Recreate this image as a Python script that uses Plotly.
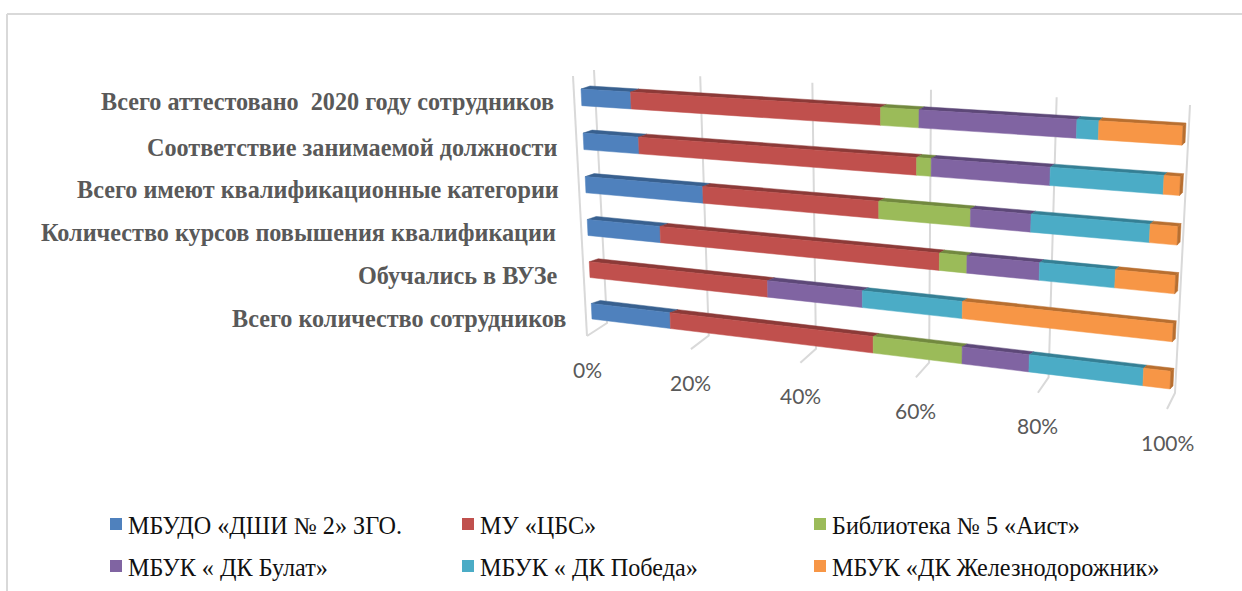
"""Stacked 100% bars in Excel's 3D look, drawn through a small perspective projection."""

import numpy as np
import plotly.graph_objects as go

# rows go from the bottom of the chart to the top
CATEGORIES = [
    "Всего количество сотрудников",
    "Обучались в ВУЗе",
    "Количество курсов повышения квалификации",
    "Всего имеют квалификационные категории",
    "Соответствие занимаемой должности",
    "Всего аттестовано\u00a0\u00a02020 году сотрудников",
]
SERIES_NAMES = [
    "МБУДО «ДШИ № 2» ЗГО.",
    "МУ «ЦБС»",
    "Библиотека № 5 «Аист»",
    "МБУК « ДК Булат»",
    "МБУК « ДК Победа»",
    "МБУК «ДК Железнодорожник»",
]
DSHI = [15.3, 0, 14.0, 22.2, 10.6, 9.4]
CBS = [36.8, 33.6, 49.3, 30.9, 49.0, 44.0]
AIST = [15.0, 0, 4.5, 15.1, 2.4, 6.3]
BULAT = [10.9, 16.7, 11.6, 9.6, 18.9, 24.7]
POBEDA = [17.8, 16.8, 11.7, 18.1, 17.1, 3.3]
ZHD = [4.1, 32.9, 9.0, 4.1, 2.4, 12.3]
SERIES_VALUES = [DSHI, CBS, AIST, BULAT, POBEDA, ZHD]
TICKS = [0, 20, 40, 60, 80, 100]
TICK_LABELS = ["0%", "20%", "40%", "60%", "80%", "100%"]

FRONT_COLORS = ["#4F81BD", "#C0504D", "#9BBB59", "#8064A2", "#4BACC6", "#F79646"]
TOP_COLORS = ["#38608F", "#8C3A38", "#72893F", "#5D4878", "#357F94", "#B86F30"]
GRID = "#D9D9D9"
TEXT = "#595959"

BAR_PITCH = 0.186
BAR_HEIGHT = 0.07


def homography(corners):
    """Matrix taking (0,0),(1,0),(0,1),(1,1) to the given pixel corners."""
    src = [(0, 0), (1, 0), (0, 1), (1, 1)]
    a, b = [], []
    for (u, v), (x, y) in zip(src, corners):
        a.append([u, v, 1, 0, 0, 0, -u * x, -v * x])
        a.append([0, 0, 0, u, v, 1, -u * y, -v * y])
        b += [x, y]
    h = np.linalg.solve(np.array(a, float), np.array(b, float))
    return np.append(h, 1).reshape(3, 3)


def project(h, pct, v):
    px, py, w = h @ np.array([pct / 100, v, 1.0])
    return px / w, py / w


# bars plane and back wall, as pixel corners (left-bottom, right-bottom, left-top, right-top)
BARS = homography([(592, 319), (1170, 389), (581, 89), (1183, 126)])
WALL = homography([(607, 323), (1175, 393), (594, 70), (1190, 105)])
FLOOR_LEFT = (587, 336)
FLOOR_RIGHT = (1167, 409)


def floor_front(pct):
    # same spacing along the front edge of the floor as along the foot of the wall
    x0 = project(WALL, 0, 0)[0]
    x1 = project(WALL, 100, 0)[0]
    t = (project(WALL, pct, 0)[0] - x0) / (x1 - x0)
    return (FLOOR_LEFT[0] + t * (FLOOR_RIGHT[0] - FLOOR_LEFT[0]),
            FLOOR_LEFT[1] + t * (FLOOR_RIGHT[1] - FLOOR_LEFT[1]))


def depth(pct):
    return 9 - 6 * pct / 100, -3


def poly(points, color):
    xs = [p[0] for p in points] + [points[0][0]]
    ys = [p[1] for p in points] + [points[0][1]]
    return go.Scatter(x=xs, y=ys, mode="lines", fill="toself", fillcolor=color,
                      line=dict(color=color, width=0.5), hoverinfo="skip", showlegend=False)


def shifted(point, pct):
    dx, dy = depth(pct)
    return point[0] + dx, point[1] + dy


fig = go.Figure()

# walls
for pct in TICKS:
    back_bottom = project(WALL, pct, 0)
    back_top = project(WALL, pct, 1)
    front = floor_front(pct)
    fig.add_trace(go.Scatter(x=[back_top[0], back_bottom[0], front[0]],
                             y=[back_top[1], back_bottom[1], front[1]],
                             mode="lines", line=dict(color=GRID, width=2),
                             hoverinfo="skip", showlegend=False))
fig.add_trace(go.Scatter(x=[573, FLOOR_LEFT[0]], y=[76, FLOOR_LEFT[1]], mode="lines",
                         line=dict(color=GRID, width=2), hoverinfo="skip", showlegend=False))

# bars
for row in range(len(CATEGORIES)):
    low = row * BAR_PITCH
    high = low + BAR_HEIGHT
    start = 0
    total = sum(vals[row] for vals in SERIES_VALUES)
    for vals, front_color, top_color in zip(SERIES_VALUES, FRONT_COLORS, TOP_COLORS):
        if vals[row] == 0:
            continue
        end = start + vals[row] / total * 100
        tl, tr = project(BARS, start, high), project(BARS, end, high)
        bl, br = project(BARS, start, low), project(BARS, end, low)
        fig.add_trace(poly([tl, tr, shifted(tr, end), shifted(tl, start)], top_color))
        fig.add_trace(poly([bl, br, tr, tl], front_color))
        if end > 99.9:
            fig.add_trace(poly([tr, br, shifted(br, end), shifted(tr, end)], top_color))
        start = end

# legend keys
LEGEND_X = [116, 468, 820]
LEGEND_Y = [525, 567]
annotations = []
for i, name in enumerate(SERIES_NAMES):
    x, y = LEGEND_X[i % 3], LEGEND_Y[i // 3]
    fig.add_trace(go.Scatter(x=[x], y=[y - 1], mode="markers", name=name, showlegend=False,
                             marker=dict(symbol="square", size=12, color=FRONT_COLORS[i]),
                             hoverinfo="skip"))
    annotations.append(dict(x=x + 10, y=y, text=name, xanchor="left", yanchor="middle",
                            showarrow=False,
                            font=dict(family="Liberation Serif", size=24.2, color="#111111")))

# category labels sit at their bar, right edges as in the picture
LABEL_RIGHT = [568, 560, 558, 561, 559, 556]
LABEL_Y = [318, 275, 232, 189, 147, 101]
for text, x, y in zip(CATEGORIES, LABEL_RIGHT, LABEL_Y):
    annotations.append(dict(x=x, y=y, text=f"<b>{text}</b>", xanchor="right", yanchor="middle",
                            showarrow=False,
                            font=dict(family="Liberation Serif", size=24.2, color=TEXT)))

for pct, label in zip(TICKS, TICK_LABELS):
    px, py = floor_front(pct)
    annotations.append(dict(x=px, y=py + 33, text=label, xanchor="center", yanchor="middle",
                            showarrow=False, font=dict(family="Lato", size=21, color=TEXT)))

fig.update_layout(
    width=1242,
    height=591,
    margin=dict(l=0, r=0, t=0, b=0),
    paper_bgcolor="white",
    plot_bgcolor="white",
    showlegend=False,
    xaxis=dict(range=[0, 1242], visible=False),
    yaxis=dict(range=[591, 0], visible=False),
    annotations=annotations,
    shapes=[dict(type="line", xref="x", yref="y", x0=7, y0=591, x1=7, y1=14,
                 line=dict(color=GRID, width=2)),
            dict(type="line", xref="x", yref="y", x0=7, y0=14, x1=1242, y1=14,
                 line=dict(color=GRID, width=2))],
)

fig.write_html("out.html", config=dict(displayModeBar=False),
               post_script="document.body.style.margin='0';")
